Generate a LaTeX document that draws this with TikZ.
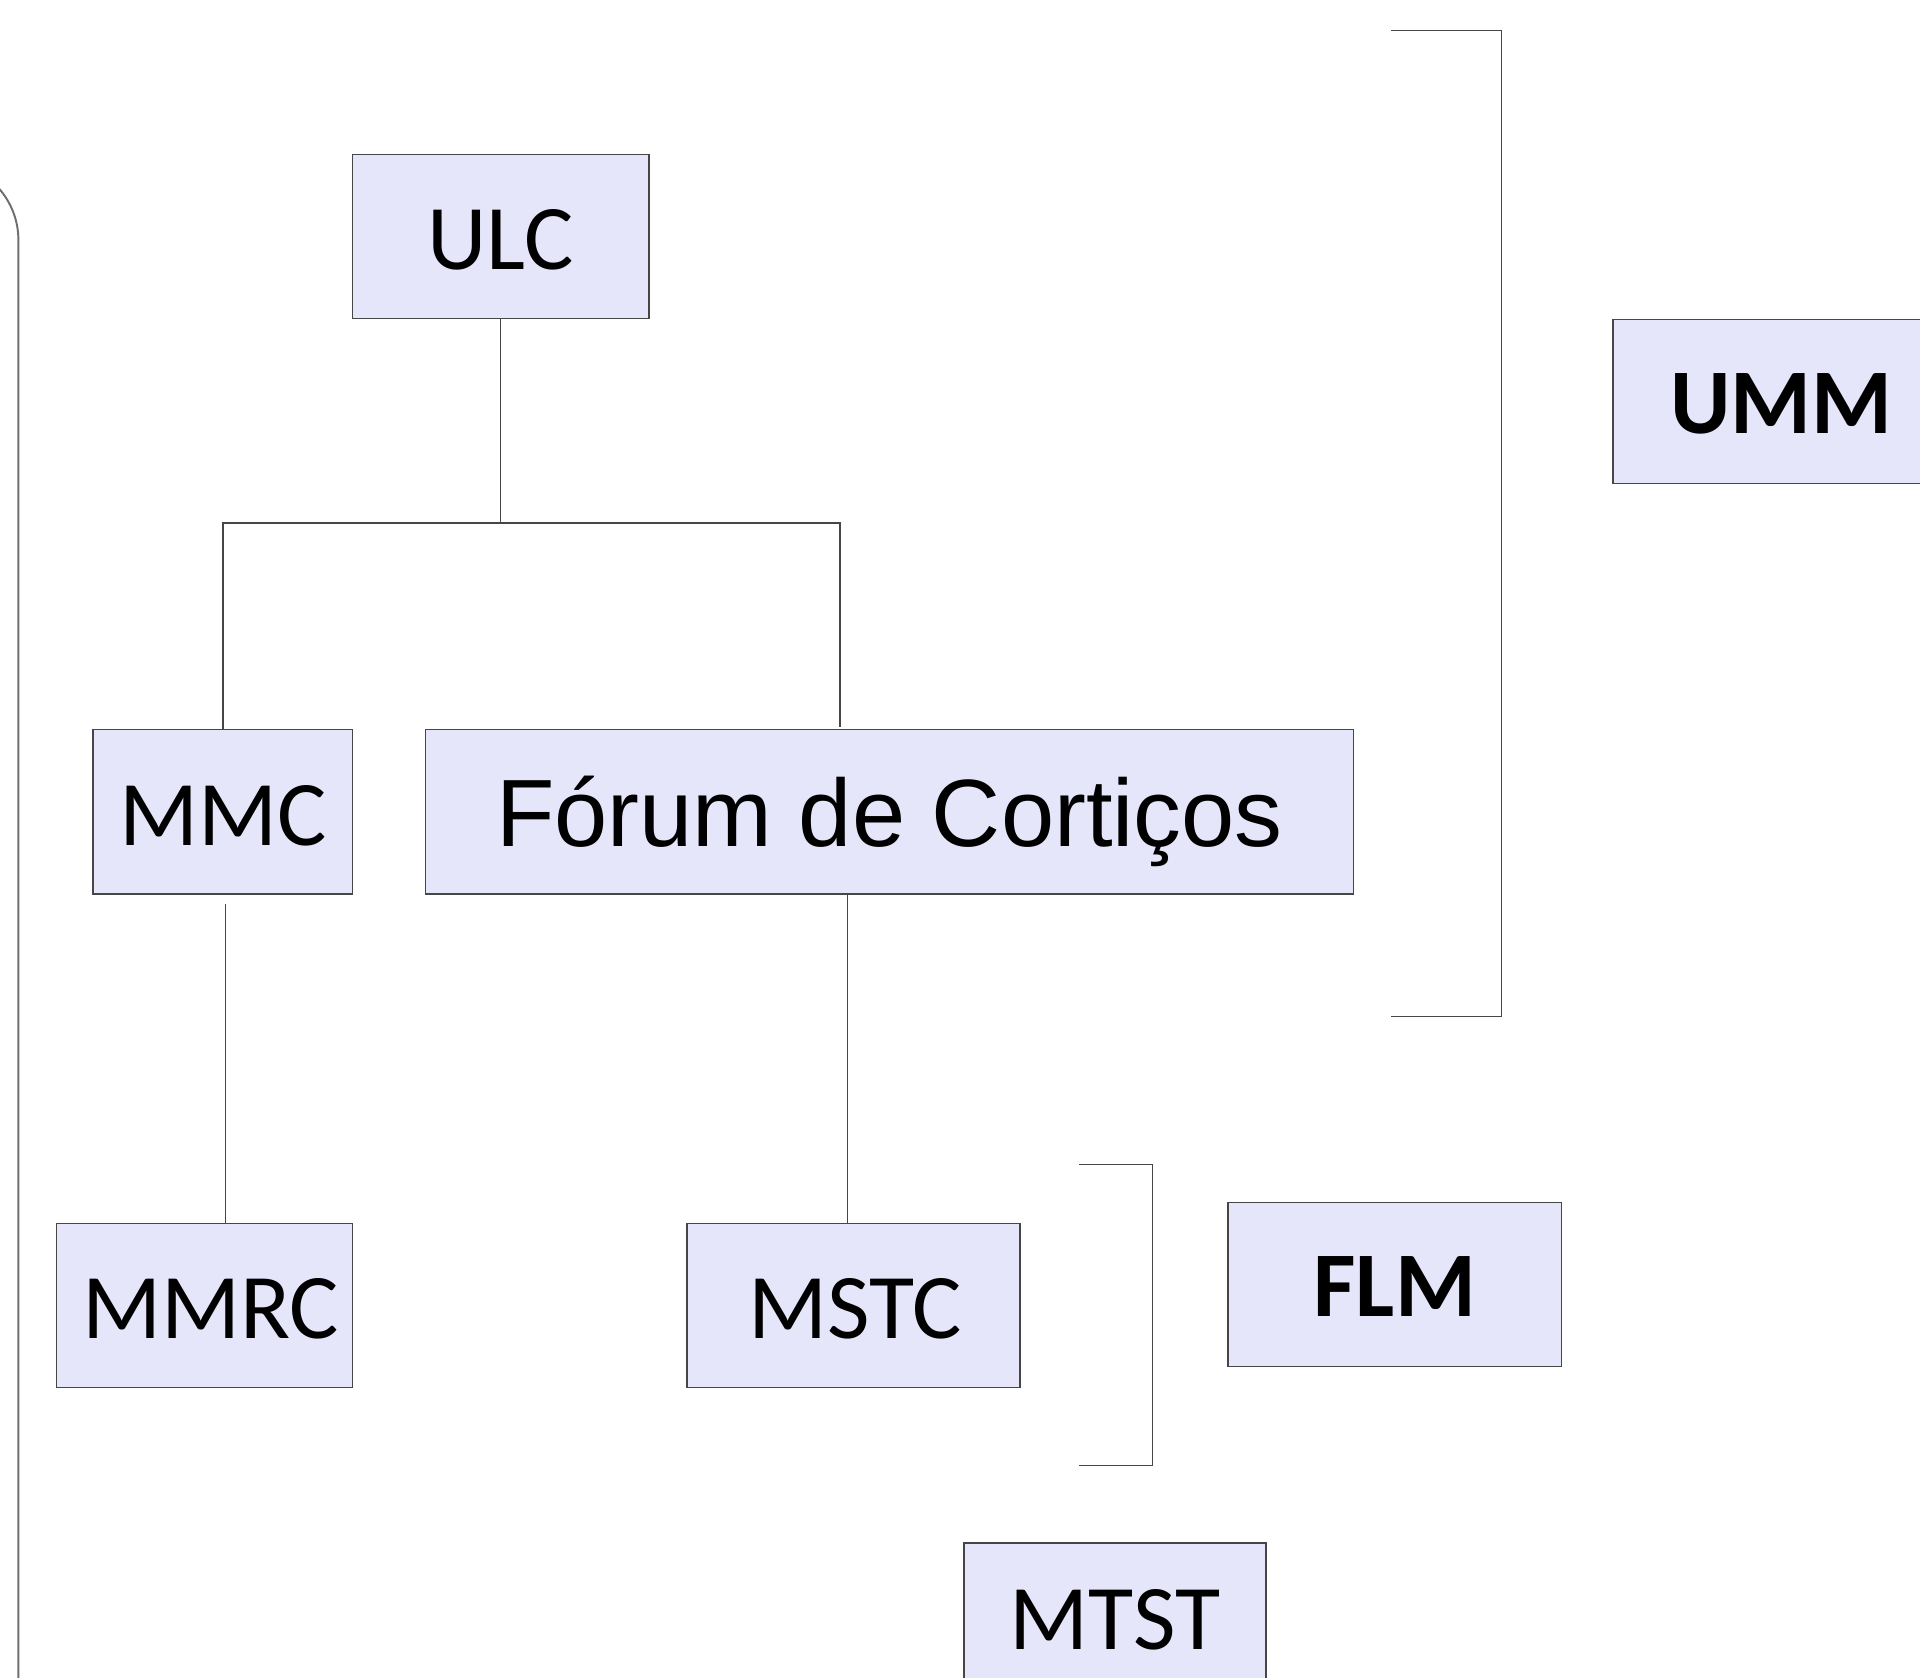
\documentclass[tikz,border=0pt]{standalone}
\usepackage{fontspec}
\setmainfont{Carlito}
\newfontfamily\arialfont{Liberation Sans}
\definecolor{boxfill}{RGB}{230,230,250}
\definecolor{edge}{RGB}{70,70,70}
\begin{document}
\begin{tikzpicture}[x=0.01cm,y=-0.01cm,
  box/.style={draw=edge,line width=0.35pt,fill=boxfill,inner sep=0pt,font=\fontsize{26.3}{30}\selectfont,text height=19pt,text depth=0pt},
  boldbox/.style={box,font=\bfseries\fontsize{26.3}{30}\selectfont,text height=18.1pt},
  link/.style={draw=edge,line width=0.35pt},
  brack/.style={draw=edge,line width=0.35pt}]
\useasboundingbox (0,0) rectangle (1920,1678);
\clip (0,0) rectangle (1920,1678);
% boxes
\node[box,minimum width=2.96cm,minimum height=1.64cm,text height=18.8pt] (ULC) at (500.8,236.4) {ULC};
\node[box,minimum width=2.597cm,minimum height=1.64cm] (MMC) at (222.9,811.9) {MMC};
\node[box,minimum width=9.27cm,minimum height=1.64cm,font=\arialfont\fontsize{27.2}{30}\selectfont,text height=19.4pt] (Forum) at (889.5,811.9) {Fórum de Cortiços};
\node[box,minimum width=2.964cm,minimum height=1.64cm] (MMRC) at (204.5,1305.4) {\hspace*{0.12cm}MMRC};
\node[box,minimum width=3.33cm,minimum height=1.64cm] (MSTC) at (853.5,1305.4) {\hspace*{0.03cm}MSTC};
\node[boldbox,minimum width=3.33cm,minimum height=1.64cm] (FLM) at (1394.7,1284.6) {FLM};
\node[boldbox,minimum width=3.32cm,minimum height=1.64cm] (UMM) at (1779,401.5) {\hspace*{0.05cm}UMM};
\node[box,minimum width=3.02cm,minimum height=1.64cm,text height=14.2pt] (MTST) at (1115,1625) {MTST};
% connectors
\coordinate (j) at (500.8,522.9);
\coordinate (fj) at (840,727.4);
\coordinate (mb) at (225.3,903.7);
\coordinate (fb) at (847.4,893.9);
\draw[link] (ULC.south) -- (j);
\draw[link] (MMC.north) |- (j) -| (fj);
\draw[link] (mb) -- (mb |- MMRC.north);
\draw[link] (fb) -- (fb |- MSTC.north);
% brackets
\coordinate (b1a) at (1391,30.6);
\coordinate (b1b) at (1501.3,30.6);
\coordinate (b1c) at (1501.3,1016.3);
\coordinate (b1d) at (1391,1016.3);
\draw[brack] (b1a) -- (b1b) -- (b1c) -- (b1d);
\coordinate (b2a) at (1078.9,1164.5);
\coordinate (b2b) at (1152.3,1164.5);
\coordinate (b2c) at (1152.3,1465.7);
\coordinate (b2d) at (1078.9,1465.7);
\draw[brack] (b2a) -- (b2b) -- (b2c) -- (b2d);
% left rounded frame edge
\coordinate (lf) at (18.4,1700);
\draw[draw={rgb,255:red,110;green,110;blue,110},line width=0.55pt] (lf) -- (18.4,240) arc[start angle=0,end angle=-42,radius=78];
\end{tikzpicture}
\end{document}
